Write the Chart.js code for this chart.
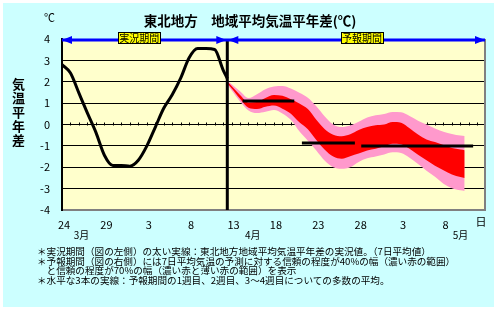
<!DOCTYPE html>
<html>
<head>
<meta charset="utf-8">
<script src="https://cdn.jsdelivr.net/npm/chart.js@4.4.1/dist/chart.umd.min.js"></script>
<style>
  body { margin: 0; background: #fff; }
  #wrap { position: relative; width: 500px; height: 311px; font-family: "Noto Sans CJK JP", sans-serif; color: #000; }
  #bg { position: absolute; left: 3px; top: 3px; width: 491px; height: 304px; background: #ccffff; }
  #chart { position: absolute; left: 0; top: 0; }
  .txt { position: absolute; white-space: pre; }
  #title { left: 0; top: 13px; width: 500px; text-align: center; font-size: 13.5px; line-height: 14px; font-weight: bold; }
  #unit { left: 44px; top: 12px; font-size: 11px; line-height: 11px; }
  #ytitle { left: 12px; top: 78px; font-size: 13px; font-weight: bold; writing-mode: vertical-rl; letter-spacing: 1px; line-height: 13px; }
  #notes { left: 37px; top: 247px; font-size: 9.6px; line-height: 9.7px; }
</style>
</head>
<body>
<div id="wrap">
  <div id="bg"></div>
  <canvas id="chart" width="500" height="311"></canvas>
  <div class="txt" id="title">東北地方　地域平均気温平年差(℃)</div>
  <div class="txt" id="unit">℃</div>
  <div class="txt" id="ytitle">気温平年差</div>
  <div class="txt" id="notes">＊実況期間（図の左側）の太い実線：東北地方地域平均気温平年差の実況値。（7日平均値）
＊予報期間（図の右側）には7日平均気温の予測に対する信頼の程度が40%の幅（濃い赤の範囲）
　と信頼の程度が70%の幅（濃い赤と薄い赤の範囲）を表示
＊水平な3本の実線：予報期間の1週目、2週目、3～4週目についての多数の平均。</div>
</div>
<script>
// x は 3月24日からの日数
const xTickDays = [0, 5, 10, 15, 20, 25, 30, 35, 40, 45];
const xTickLabels = ["24", "29", "3", "8", "13", "18", "23", "28", "3", "8"];
const monthDays = [2.3, 22.5, 47.0];
const monthLabels = ["3月", "4月", "5月"];
const periodLabelDays = [9.1, 35.4];
const periodLabels = ["実況期間", "予報期間"];
const forecastStart = 19.5;

// 実況値（7日平均）
const obsDays = [0, 1, 2, 3, 4, 5, 6, 7, 8, 9, 10, 11, 12, 13, 14, 15, 16, 17, 18, 19, 19.5];
const obsValues = [2.8, 2.41, 1.47, 0.53, -0.37, -1.44, -1.92, -1.92, -1.95, -1.67, -1.01,
  -0.13, 0.76, 1.39, 2.17, 3.12, 3.55, 3.55, 3.51, 2.56, 2.15];

// 予報期間の幅
const fcDays = [19.5, 20, 21, 22, 23, 24, 25, 26, 27, 28, 29, 30, 31, 32, 33, 34, 35, 36, 37,
  38, 39, 40, 41, 42, 43, 44, 45, 46, 47, 47.5];
const band70Hi = [2.05, 1.88, 1.55, 1.24, 1.42, 1.65, 1.78, 1.8, 1.68, 1.48, 1.25, 0.85, 0.38,
  0.0, -0.12, -0.05, 0.13, 0.33, 0.43, 0.49, 0.58, 0.57, 0.4, 0.18, 0.0, -0.19, -0.34, -0.44, -0.52, -0.54];
const band40Hi = [2.0, 1.8, 1.38, 1.03, 1.05, 1.24, 1.38, 1.34, 1.18, 0.98, 0.72, 0.22, -0.22,
  -0.48, -0.55, -0.46, -0.26, -0.12, -0.04, 0.0, 0.12, 0.08, -0.18, -0.47, -0.7, -0.82, -0.96, -1.1, -1.17, -1.2];
const band40Lo = [1.92, 1.7, 1.2, 0.78, 0.72, 0.83, 0.89, 0.74, 0.5, 0.1, -0.22, -0.72, -1.18,
  -1.5, -1.6, -1.48, -1.36, -1.22, -1.14, -1.02, -0.9, -0.92, -1.14, -1.42, -1.67, -1.93, -2.14, -2.34, -2.46, -2.5];
const band70Lo = [1.86, 1.6, 1.08, 0.66, 0.54, 0.6, 0.68, 0.52, 0.22, -0.32, -0.76, -1.22, -1.7,
  -2.0, -2.07, -2.0, -1.75, -1.58, -1.5, -1.4, -1.3, -1.33, -1.55, -1.85, -2.16, -2.45, -2.77, -2.98, -3.08, -3.11];

// 1週目、2週目、3～4週目の平均
const meanStart = [21.3, 28.3, 35.3];
const meanEnd = [27.4, 34.55, 48.5];
const meanValues = [1.1, -0.86, -1.0];

function pts(xs, ys) {
  return xs.map((x, i) => ({ x: x, y: ys[i] }));
}

const decorPlugin = {
  id: "decor",
  beforeDraw(chart) {
    const a = chart.chartArea;
    const ctx = chart.ctx;
    ctx.save();
    ctx.fillStyle = "#ffffcc";
    ctx.fillRect(a.left, a.top, a.right - a.left, a.bottom - a.top);
    ctx.restore();
  },
  beforeDatasetsDraw(chart) {
    const a = chart.chartArea;
    const ctx = chart.ctx;
    const xs = chart.scales.x;
    const y0 = Math.round(chart.scales.y.getPixelForValue(0)) + 0.5;
    ctx.save();
    ctx.strokeStyle = "#000";
    ctx.lineWidth = 1;
    ctx.beginPath();
    for (let d = 1; d <= 49; d++) {
      const px = Math.round(xs.getPixelForValue(d)) + 0.5;
      ctx.moveTo(px, y0);
      ctx.lineTo(px, y0 - 3);
    }
    ctx.stroke();
    // 右側の枠
    ctx.strokeStyle = "#808080";
    ctx.lineWidth = 2;
    ctx.beginPath();
    ctx.moveTo(a.right, a.top);
    ctx.lineTo(a.right, a.bottom);
    ctx.stroke();
    ctx.restore();
  },
  afterDatasetsDraw(chart) {
    const a = chart.chartArea;
    const ctx = chart.ctx;
    const xs = chart.scales.x;
    const yBar = a.top + 1;
    const xSplit = xs.getPixelForValue(forecastStart);
    ctx.save();
    ctx.strokeStyle = "#0000ff";
    ctx.fillStyle = "#0000ff";
    ctx.lineWidth = 3;
    ctx.beginPath();
    ctx.moveTo(a.left, yBar);
    ctx.lineTo(a.right, yBar);
    ctx.stroke();
    function arrow(x, dir) {
      ctx.beginPath();
      ctx.moveTo(x, yBar);
      ctx.lineTo(x - dir * 10, yBar - 4);
      ctx.lineTo(x - dir * 10, yBar + 4);
      ctx.closePath();
      ctx.fill();
    }
    arrow(a.left, -1);
    arrow(xSplit - 1, 1);
    arrow(xSplit + 1, -1);
    arrow(a.right, 1);

    ctx.font = '10px "Noto Sans CJK JP"';
    ctx.textAlign = "center";
    ctx.textBaseline = "middle";
    periodLabels.forEach((t, i) => {
      const cx = xs.getPixelForValue(periodLabelDays[i]);
      const w = ctx.measureText(t).width + 2;
      ctx.fillStyle = "#ffff00";
      ctx.fillRect(cx - w / 2, yBar - 7, w, 11);
      ctx.strokeStyle = "#000";
      ctx.lineWidth = 1;
      ctx.strokeRect(Math.round(cx - w / 2) + 0.5, yBar - 7.5, Math.round(w), 11);
      ctx.fillStyle = "#000";
      ctx.fillText(t, cx, yBar - 1.5);
    });
    ctx.restore();
  },
  afterDraw(chart) {
    const ctx = chart.ctx;
    const xs = chart.scales.x;
    ctx.save();
    ctx.fillStyle = "#000";
    ctx.font = '10px "Noto Sans CJK JP"';
    ctx.textAlign = "center";
    ctx.textBaseline = "middle";
    monthLabels.forEach((t, i) => {
      ctx.fillText(t, xs.getPixelForValue(monthDays[i]), 235);
    });
    ctx.font = '11px "Noto Sans CJK JP"';
    ctx.fillText("日", xs.right - 4, 222);
    ctx.restore();
  },
};

const ctx = document.getElementById("chart").getContext("2d");
const chart = new Chart(ctx, {
  type: "line",
  data: {
    datasets: [
      {
        data: pts(obsDays, obsValues),
        borderColor: "#000",
        borderWidth: 3,
        pointRadius: 0,
        cubicInterpolationMode: "monotone",
        fill: false,
      },
      ...meanValues.map((v, i) => ({
        data: [{ x: meanStart[i], y: v }, { x: meanEnd[i], y: v }],
        borderColor: "#000",
        borderWidth: 3,
        pointRadius: 0,
        fill: false,
      })),
      {
        data: [{ x: forecastStart, y: 4 }, { x: forecastStart, y: -4 }],
        borderColor: "#000",
        borderWidth: 3,
        pointRadius: 0,
        fill: false,
      },
      {
        data: pts(fcDays, band40Hi),
        borderWidth: 0,
        borderColor: "rgba(0,0,0,0)",
        backgroundColor: "#ff0000",
        pointRadius: 0,
        cubicInterpolationMode: "monotone",
        fill: "+1",
      },
      {
        data: pts(fcDays, band40Lo),
        borderWidth: 0,
        borderColor: "rgba(0,0,0,0)",
        pointRadius: 0,
        cubicInterpolationMode: "monotone",
        fill: false,
      },
      {
        data: pts(fcDays, band70Hi),
        borderWidth: 0,
        borderColor: "rgba(0,0,0,0)",
        backgroundColor: "#ff99cc",
        pointRadius: 0,
        cubicInterpolationMode: "monotone",
        fill: "+1",
      },
      {
        data: pts(fcDays, band70Lo),
        borderWidth: 0,
        borderColor: "rgba(0,0,0,0)",
        pointRadius: 0,
        cubicInterpolationMode: "monotone",
        fill: false,
      },
    ],
  },
  options: {
    responsive: false,
    animation: false,
    events: [],
    layout: { padding: { top: 39, right: 15, left: 0, bottom: 0 } },
    plugins: {
      legend: { display: false },
      tooltip: { enabled: false },
    },
    scales: {
      x: {
        type: "linear",
        min: 0,
        max: 49.9,
        afterBuildTicks: (scale) => {
          scale.ticks = xTickDays.map((v) => ({ value: v }));
        },
        afterFit: (scale) => {
          scale.height = 101;
        },
        grid: { display: false, drawTicks: false },
        border: { display: true, color: "#808080", width: 2 },
        ticks: {
          autoSkip: false,
          maxRotation: 0,
          padding: 8,
          labelOffset: 2,
          color: "#000",
          font: { size: 11, family: '"Noto Sans CJK JP"' },
          callback: (v) => xTickLabels[xTickDays.indexOf(v)],
        },
      },
      y: {
        min: -4,
        max: 4,
        afterFit: (scale) => {
          scale.width = 62;
        },
        grid: {
          drawTicks: false,
          color: (c) => (c.tick && c.tick.value === -4 ? "#808080" : "#000"),
          lineWidth: 1,
        },
        border: { display: true, color: "#000", width: 2 },
        ticks: {
          stepSize: 1,
          padding: 12,
          color: "#000",
          font: { size: 11, family: '"Noto Sans CJK JP"' },
        },
      },
    },
  },
  plugins: [decorPlugin],
});
</script>
</body>
</html>
